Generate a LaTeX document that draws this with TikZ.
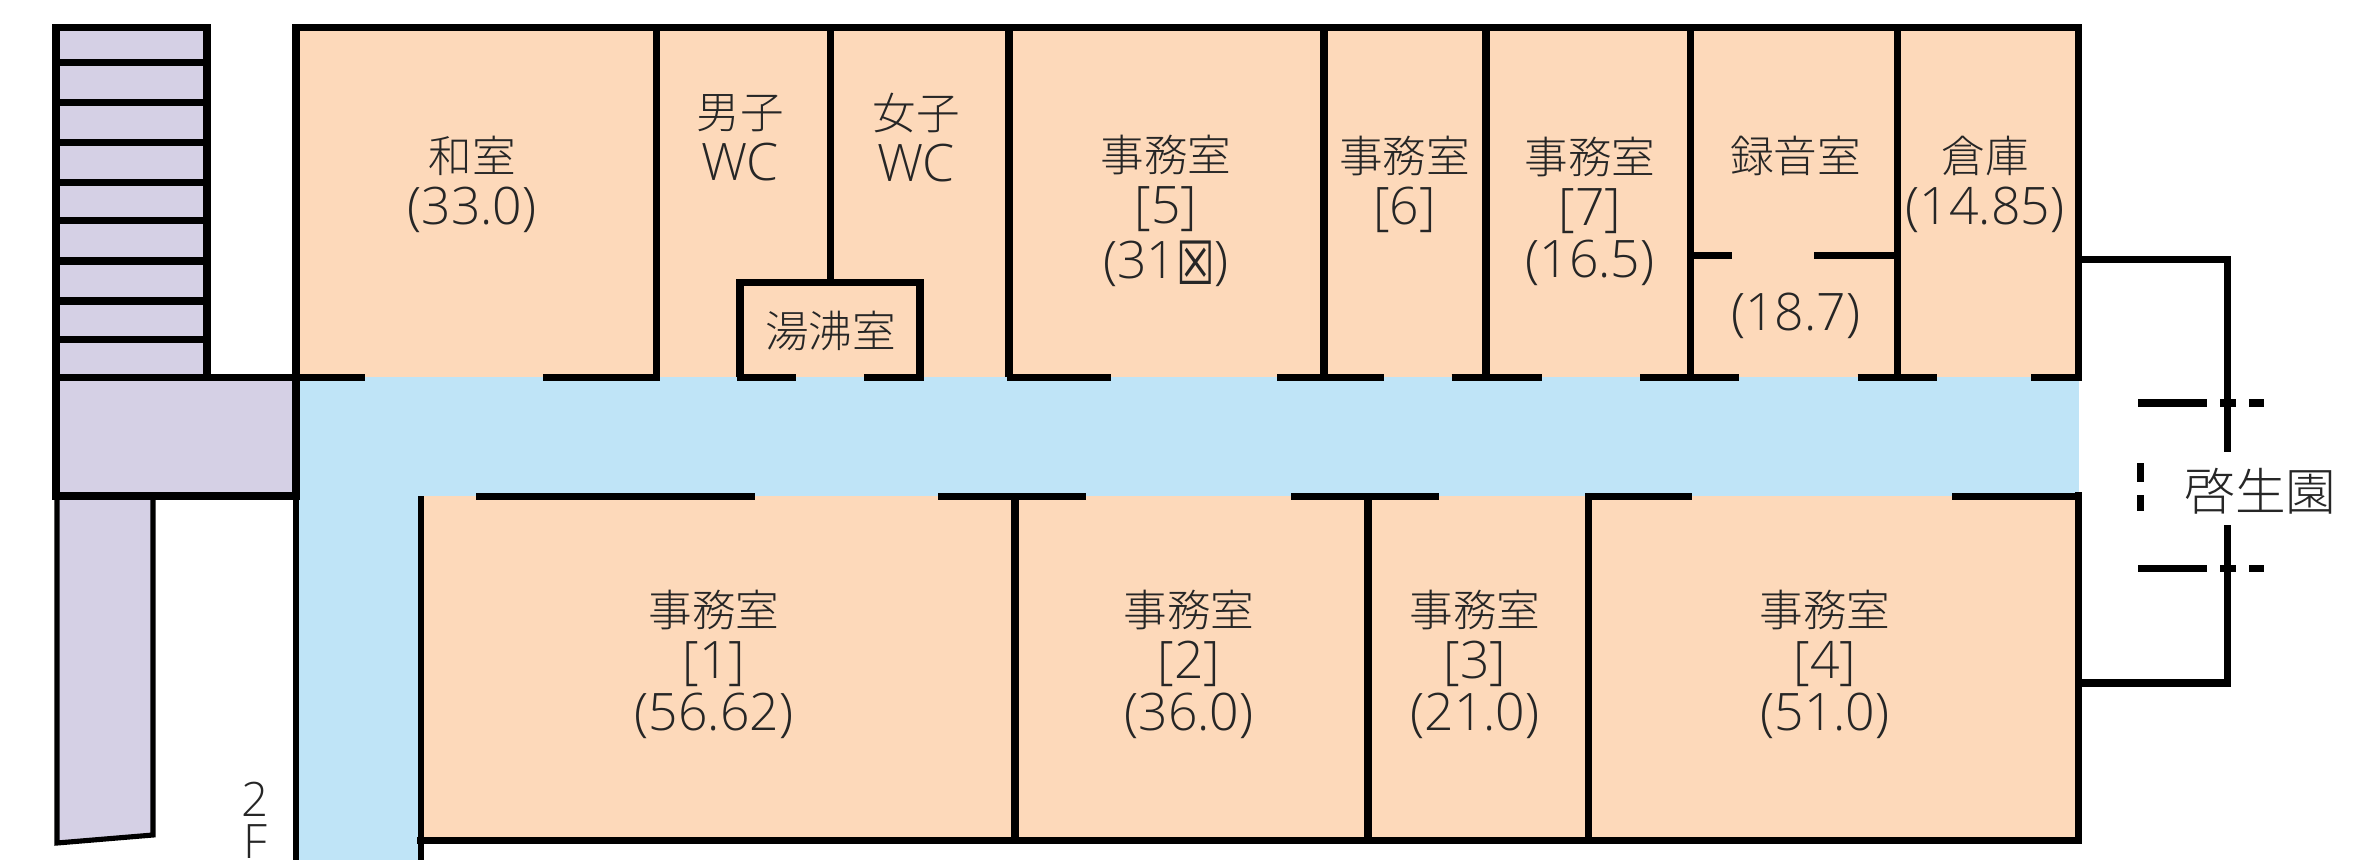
\documentclass[tikz,border=0pt]{standalone}
\usepackage{fontspec}
\setmainfont{Noto Sans CJK JP Light}
\newfontfamily\symfont{DejaVu Sans}
\newfontfamily\latinfont{Open Sans Light}
\usepackage{tikz}
\usetikzlibrary{positioning}
\definecolor{roomfill}{RGB}{253,217,186}
\definecolor{hallfill}{RGB}{191,228,247}
\definecolor{stairfill}{RGB}{213,208,229}
\newcommand{\lat}[1]{{\latinfont\fontsize{14.7}{14.8}\selectfont #1}}
\tikzset{
	wall/.style={line width=2pt, draw=black},
	thinwall/.style={line width=1.45pt, draw=black},
	room/.style={align=center, inner sep=0pt, text=black!85, font=\fontsize{12.4}{14.8}\selectfont},
}

\begin{document}
\begin{tikzpicture}[x=0.01cm, y=-0.01cm]
	\useasboundingbox (0,0) rectangle (2372,860);

	% floors
	\fill[roomfill] (296,27) rectangle (2079,377);
	\fill[roomfill] (421,496) rectangle (2079,841);
	\fill[hallfill] (296,377) rectangle (2079,496);
	\fill[hallfill] (296,496) rectangle (421,860);
	\fill[stairfill] (56,27) rectangle (207,377);
	\fill[stairfill] (56,377) rectangle (296,496);
	\fill[stairfill] (57,496) -- (153,496) -- (153,835) -- (57,843) -- cycle;

	% stairs
	\draw[wall, line cap=rect] (56,377) -- (56,27.5) -- (207,27.5) -- (207,377);
	\foreach \y in {62.3,102.7,142.7,182.7,220.7,261,301,339.3}
		\draw[wall] (56,\y) -- (207,\y);
	\draw[wall, line cap=rect] (56,377.3) -- (296,377.3) -- (296,496) -- (56,496) -- cycle;
	\draw[thinwall, line cap=rect] (57,496) -- (57,843) -- (153,835) -- (153,496);

	% upper rooms
	\draw[wall, line cap=rect] (296,377) -- (296,27.7) -- (2078,27.7) -- (2078,377);
	\foreach \x in {656.6,1009,1324,1486,1690,1897.5}
		\draw[wall] (\x,27.7) -- (\x,377);
	\draw[wall] (830.6,27.7) -- (830.6,283);
	\draw[wall] (740,377) -- (740,282.7) -- (920,282.7) -- (920,377);
	\foreach \a/\b in {296/365,543/660,737/796,864/924,1006.6/1111,1277/1384,1451.5/1542,1640/1739,1857.6/1937,2031/2080}
		\draw[wall] (\a,377.3) -- (\b,377.3);
	\draw[wall] (1690,255.7) -- (1731.5,255.7);
	\draw[wall] (1814,255.7) -- (1897.5,255.7);

	% lower rooms
	\draw[thinwall] (296,496) -- (296,860);
	\draw[thinwall] (421,496) -- (421,860);
	\draw[wall, line cap=rect] (421,840.7) -- (2078,840.7) -- (2078,496);
	\foreach \x in {1015,1368,1588}
		\draw[wall] (\x,496) -- (\x,840.7);
	\foreach \a/\b in {476/755,938/1086,1291/1439,1585/1692,1952/2080}
		\draw[wall] (\a,496.3) -- (\b,496.3);

	% neighbouring building
	\draw[wall, line cap=rect] (2079,259.3) -- (2227,259.3) -- (2227,448);
	\draw[wall, line cap=rect] (2079,683) -- (2227,683) -- (2227,529);
	\foreach \y in {403,568.7} {
		\draw[wall] (2138,\y) -- (2207,\y);
		\draw[wall] (2220,\y) -- (2236,\y);
		\draw[wall] (2249,\y) -- (2264,\y);
	}
	\draw[wall] (2140,463) -- (2140,482);
	\draw[wall] (2140,495) -- (2140,511);

	% labels
	\node[room] (washitsu) at (472,184) {和室\\\lat{(33.0)}};
	\node[room] (wcmen) at (740,138) {男子\\\lat{WC}};
	\node[room] (wcwomen) at (916,138) {女子\\\lat{WC}};
	\node[room] (yuwakashi) at (830.6,331) {湯沸室};
	\node[room] (office5) at (1166,211) {事務室\\\lat{[5]}\\[1pt]\lat{(31\raisebox{-1.5pt}{\scalebox{.72}[1]{\symfont\fontsize{17}{14.8}\selectfont ☒}})}};
	\node[room] (office6) at (1404.6,184) {事務室\\\lat{[6]}};
	\node[room] (office7) at (1590,211) {事務室\\\lat{[7]}\\\lat{(16.5)}};
	\node[room] (rokuon) at (1795.6,156) {録音室};
	\node[room] (rokuonarea) at (1795.6,316) {\lat{(18.7)}};
	\node[room] (souko) at (1985,184) {倉庫\\\lat{(14.85)}};
	\node[room] (office1) at (714,664) {事務室\\\lat{[1]}\\\lat{(56.62)}};
	\node[room] (office2) at (1189,664) {事務室\\\lat{[2]}\\\lat{(36.0)}};
	\node[room] (office3) at (1475,664) {事務室\\\lat{[3]}\\\lat{(21.0)}};
	\node[room] (office4) at (1825,664) {事務室\\\lat{[4]}\\\lat{(51.0)}};
	\node[room, font=\fontsize{14.4}{16}\selectfont] (keisei) at (2260.6,491) {啓生園};
	\node[room, anchor=south, font=\latinfont\fontsize{13.5}{12}\selectfont] (floor) at (255,859) {2\\F};
\end{tikzpicture}
\end{document}
